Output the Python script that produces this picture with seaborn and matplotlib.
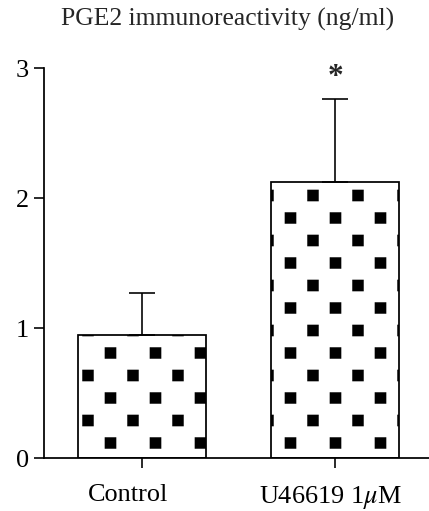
import numpy as np
import pandas as pd
import matplotlib
matplotlib.use("Agg")
import matplotlib.pyplot as plt
import matplotlib.hatch as mhatch
import matplotlib.transforms as mtransforms
from matplotlib.path import Path
import seaborn as sns

# ---- data ----
categories = ["Control", r"U46619 1$\mu$M"]
means = [0.945, 2.125]
errors = [0.325, 0.635]
yticks = [0, 1, 2, 3]
title = "PGE2 immunoreactivity (ng/ml)"
significance = ["", "*"]

# ---- custom square-dot hatch (replaces '.') ----
HATCH_DX = -2 / 90
HATCH_DY = -15.5 / 90


class SquareDots(mhatch.HatchPatternBase):
    def __init__(self, hatch, density):
        s = 0.062
        centers = []
        if hatch.count('.') > 0:
            for k in range(-2, 7):
                y = k * 0.25 + HATCH_DY
                off = 0.0 if k % 2 == 0 else 0.25
                for j in range(-2, 4):
                    x = j * 0.5 + off + HATCH_DX
                    if -s < x < 1 + s and -s < y < 1 + s:
                        centers.append((x, y))
        self.s = s
        self.centers = centers
        self.num_vertices = 5 * len(centers)

    def set_vertices_and_codes(self, vertices, codes):
        s = self.s
        for i, (x, y) in enumerate(self.centers):
            vertices[5 * i:5 * i + 5] = [(x - s, y - s), (x + s, y - s),
                                         (x + s, y + s), (x - s, y + s),
                                         (x - s, y - s)]
            codes[5 * i:5 * i + 5] = [Path.MOVETO, Path.LINETO, Path.LINETO,
                                      Path.LINETO, Path.CLOSEPOLY]


mhatch._hatch_types = [SquareDots if t is mhatch.SmallFilledCircles else t
                       for t in mhatch._hatch_types]

sns.set_theme(style="ticks")
plt.rcParams["font.family"] = ["Liberation Serif", "DejaVu Serif"]
plt.rcParams["mathtext.fontset"] = "stix"
plt.rcParams["hatch.linewidth"] = 0.3

DPI = 90
fig = plt.figure(figsize=(429 / DPI, 511 / DPI), dpi=DPI)
ax = fig.add_axes([0.1026, 0.1037, 0.8974, 0.7632])

df = pd.DataFrame({"group": categories, "value": means})
sns.barplot(data=df, x="group", y="value", ax=ax, color="white",
            edgecolor="black", linewidth=1.4, width=0.663, errorbar=None,
            hatch=".")
for p in ax.patches:
    p.set_hatch(".")
    p.set_facecolor("white")
    p.set_edgecolor("black")

ax.errorbar(x=np.arange(len(means)), y=means,
            yerr=[np.zeros(len(errors)), errors], fmt="none",
            ecolor="black", elinewidth=1.3, capsize=10.5, capthick=1.3,
            zorder=1)

for i, (m, e, s) in enumerate(zip(means, errors, significance)):
    if s:
        ax.text(i, m + e + 0.055, s, ha="center", va="bottom",
                fontsize=25, fontweight="bold")

ax.set_xlim(-0.508, 1.487)
ax.set_ylim(0, 3)
ax.set_yticks(yticks)
ax.set_yticklabels([str(t) for t in yticks])
ax.set_xlabel("")
ax.set_ylabel("")
ax.tick_params(axis="both", direction="out", length=8, width=1.3,
               labelsize=21, colors="black")
ax.tick_params(axis="x", pad=13)
ax.tick_params(axis="y", pad=4)
for sp in ["top", "right"]:
    ax.spines[sp].set_visible(False)
for sp in ["left", "bottom"]:
    ax.spines[sp].set_linewidth(1.4)
    ax.spines[sp].set_color("black")

# small horizontal offsets of the category labels (as in the original)
label_shift_px = [-14, -5]
for lab, dx in zip(ax.get_xticklabels(), label_shift_px):
    lab.set_transform(lab.get_transform() +
                      mtransforms.Affine2D().translate(dx, 0))

fig.text(228 / 429, 1 - 19 / 511, title, ha="center",
         va="center", fontsize=20.5)

fig.savefig("out.png", dpi=DPI)
